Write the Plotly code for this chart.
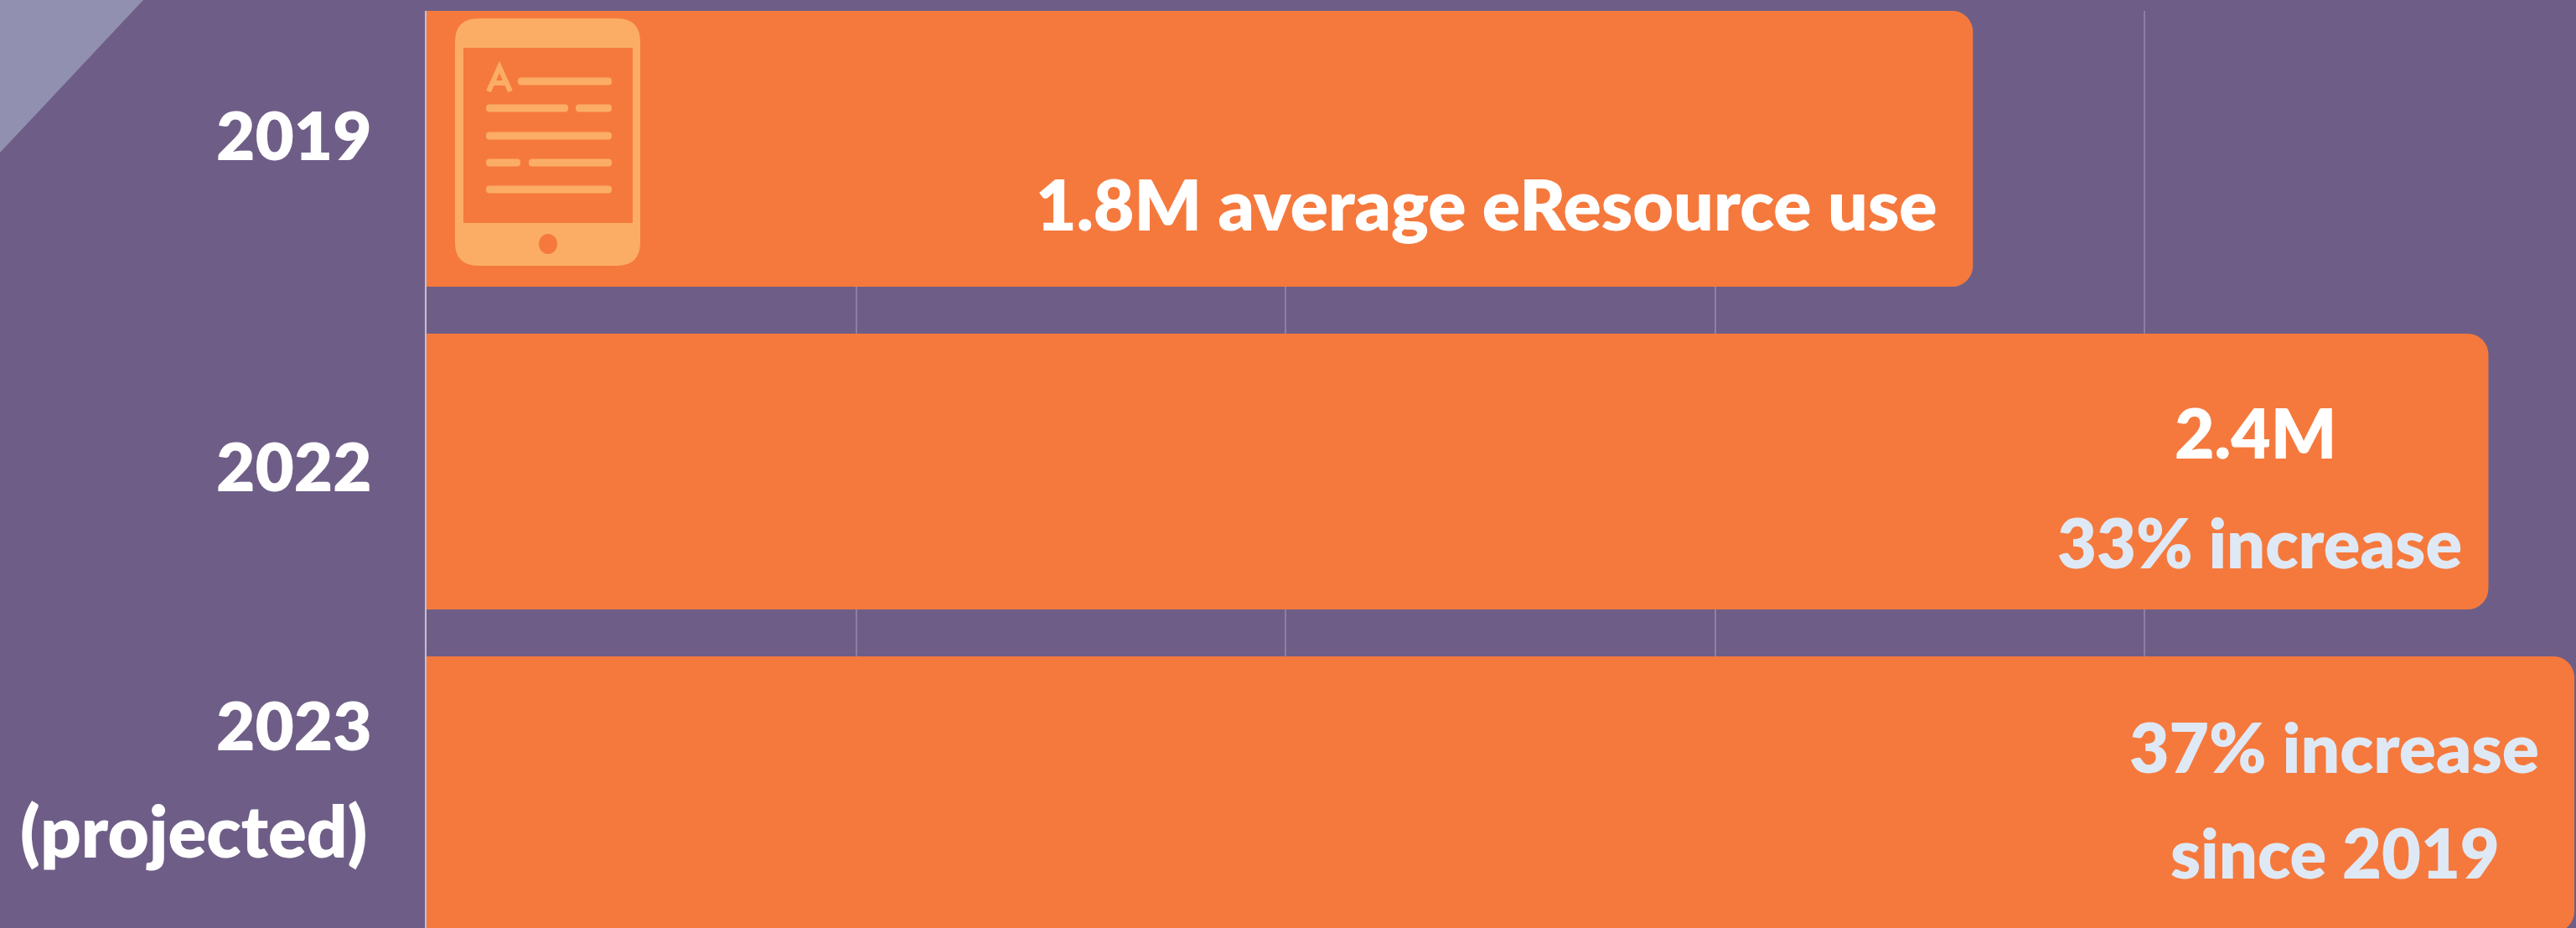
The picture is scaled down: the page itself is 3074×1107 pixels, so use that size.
import plotly.graph_objects as go

# ---- data ----
categories = ["2019", "2022", "2023 (projected)"]
values = [1.8, 2.4, 2.5]
grid_ticks = [0, 0.5, 1.0, 1.5, 2.0, 2.5]

year_labels = ["2019", "2022", "2023", "(projected)"]
year_label_x = [446, 446, 446, 440]
year_label_y = [160, 555, 864, 990]
year_label_size = [80, 80, 80, 85]
bar_texts = ["1.8M average eResource use", "2.4M", "33% increase", "37% increase", "since 2019"]
bar_text_x = [2314, 2691, 2940, 3032, 2985]
bar_text_y = [242, 515, 646, 890, 1016]
bar_text_size = [84, 82, 81, 82, 81]
bar_text_anchor = ["right", "center", "right", "right", "right"]
bar_text_col = ["#ffffff", "#ffffff", "#dfe9f5", "#dfe9f5", "#dfe9f5"]

# ---- layout constants ----
W, H = 3074, 1107
L, R, T, B = 509, 2, 13, 0
BG, BAR, ICON = "#6e5e87", "#f5793d", "#fbad66"
FONT = "Lato"


def px(x):
    return (x - L) / (W - L - R)


def py(y):
    return 1 - (y - T) / (H - T - B)


def rrect(x0, y0, x1, y1, r, color, ry=None):
    ry = r if ry is None else ry
    p = (f"M {px(x0+r)},{py(y0)} L {px(x1-r)},{py(y0)} Q {px(x1)},{py(y0)} {px(x1)},{py(y0+ry)} "
         f"L {px(x1)},{py(y1-ry)} Q {px(x1)},{py(y1)} {px(x1-r)},{py(y1)} "
         f"L {px(x0+r)},{py(y1)} Q {px(x0)},{py(y1)} {px(x0)},{py(y1-ry)} "
         f"L {px(x0)},{py(y0+ry)} Q {px(x0)},{py(y0)} {px(x0+r)},{py(y0)} Z")
    return dict(type="path", path=p, xref="paper", yref="paper", fillcolor=color,
                line=dict(width=0), layer="above")


shapes = []
# corner ribbon
shapes.append(dict(type="path", xref="paper", yref="paper", layer="below",
                   path=f"M {px(0)},{py(0)} L {px(171)},{py(0)} L {px(0)},{py(182)} Z",
                   fillcolor="#9290b0", line=dict(width=0)))
# tablet icon
shapes.append(rrect(543, 22, 764, 317, 28, ICON))
shapes.append(dict(type="rect", xref="paper", yref="paper", layer="above",
                   x0=px(553), x1=px(755), y0=py(57), y1=py(266),
                   fillcolor=BAR, line=dict(width=0)))
shapes.append(dict(type="circle", xref="paper", yref="paper", layer="above",
                   x0=px(643), x1=px(665), y0=py(279), y1=py(303),
                   fillcolor=BAR, line=dict(width=0)))
for x0, x1, yc in [(618, 730, 97), (580, 678, 129), (687, 730, 129), (580, 730, 162),
                   (580, 621, 194), (631, 730, 194), (580, 730, 226)]:
    shapes.append(rrect(x0, yc - 4.5, x1, yc + 4.5, 4, ICON, 4))
shapes.append(dict(type="path", xref="paper", yref="paper", layer="above",
                   path=(f"M {px(583)},{py(109)} L {px(596)},{py(80)} L {px(609)},{py(109)} "
                         f"M {px(587)},{py(99)} L {px(605)},{py(99)}"),
                   line=dict(color=ICON, width=6)))

annotations = []
for t, x, y, s in zip(year_labels, year_label_x, year_label_y, year_label_size):
    annotations.append(dict(text=t, xref="paper", yref="paper", x=px(x), y=py(y),
                            xanchor="right", yanchor="middle", showarrow=False,
                            font=dict(family=FONT, size=s, color="#ffffff", weight=800)))
for t, x, y, a, c, s in zip(bar_texts, bar_text_x, bar_text_y, bar_text_anchor, bar_text_col, bar_text_size):
    annotations.append(dict(text=t, xref="paper", yref="paper", x=px(x), y=py(y),
                            xanchor=a, yanchor="middle", showarrow=False,
                            font=dict(family=FONT, size=s, color=c, weight=800)))

fig = go.Figure(go.Bar(x=values, y=categories, orientation="h", width=0.855,
                       marker=dict(color=BAR, line=dict(width=0)), hoverinfo="skip"))
fig.update_layout(
    width=W, height=H, margin=dict(l=L, r=R, t=T, b=B, autoexpand=False),
    paper_bgcolor=BG, plot_bgcolor=BG, showlegend=False, barcornerradius=25,
    shapes=shapes, annotations=annotations,
    xaxis=dict(range=[0, 2.5], tickmode="array", tickvals=grid_ticks, showticklabels=False,
               showgrid=True, gridcolor="#8b80a2", gridwidth=2, zeroline=False, ticks="",
               showline=False),
    yaxis=dict(type="category", categoryorder="array", categoryarray=categories,
               range=[2.414, -0.427], showticklabels=False, showgrid=False, ticks="",
               showline=True, linecolor="#c5c1d0", linewidth=2, zeroline=False),
)
fig.write_html("out.html", config=dict(displayModeBar=False),
               post_script="document.body.style.margin='0';document.documentElement.style.background='#6e5e87';")
